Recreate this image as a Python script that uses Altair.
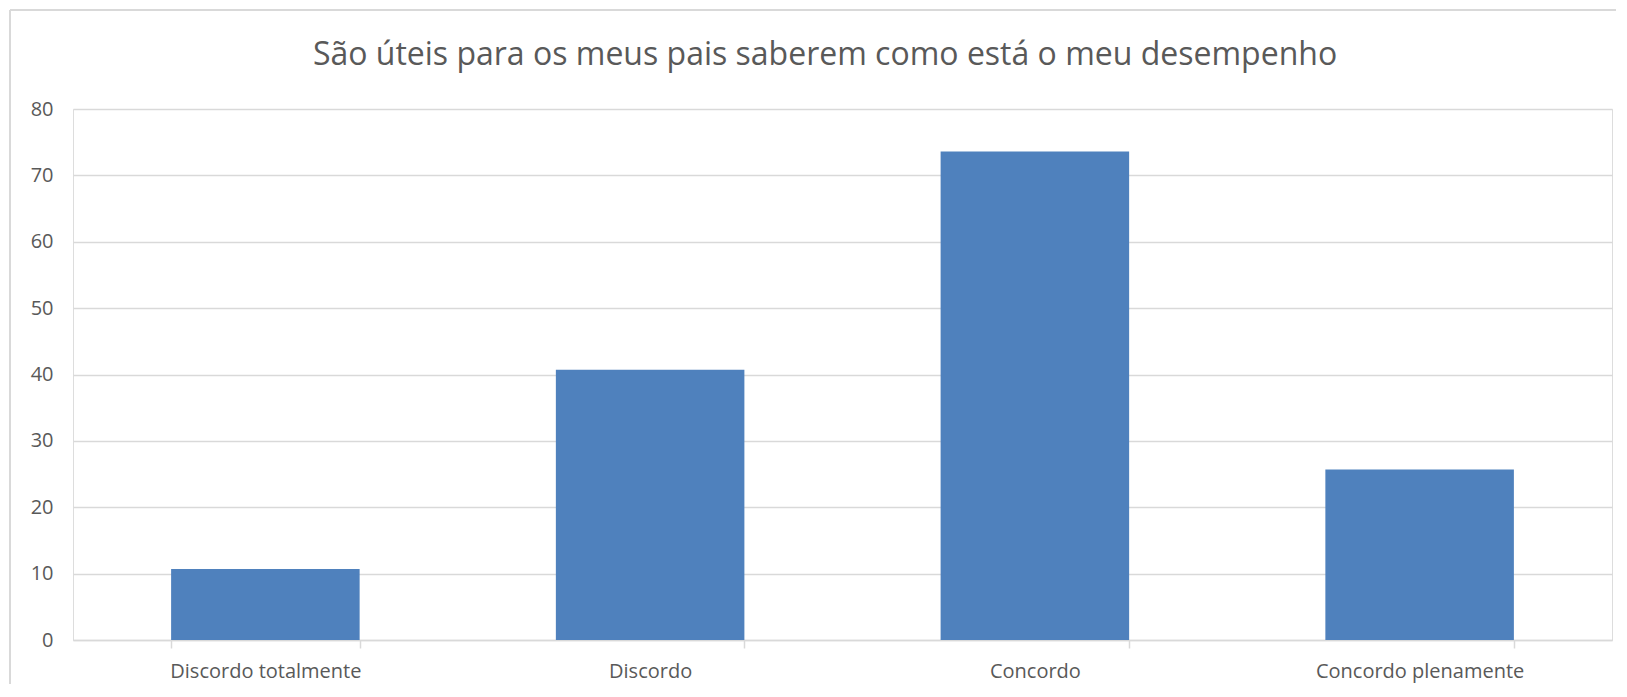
import altair as alt
import pandas as pd

categories = ["Discordo totalmente", "Discordo", "Concordo", "Concordo plenamente"]
values = [10.7, 40.7, 73.6, 25.7]
y_ticks = [0, 10, 20, 30, 40, 50, 60, 70, 80]
title_text = "São úteis para os meus pais saberem como está o meu desempenho"

df = pd.DataFrame({"categoria": categories, "valor": values})

FONT = "Open Sans"
GREY = "#595959"
LINE = "#d9d9d9"

bars = alt.Chart(df).mark_bar(color="#4f81bd").encode(
    x=alt.X(
        "categoria:N",
        sort=categories,
        title=None,
        scale=alt.Scale(paddingInner=0.51, paddingOuter=0.255),
        axis=alt.Axis(
            labelAngle=0,
            labelFont=FONT,
            labelFontSize=20,
            labelColor=GREY,
            labelPadding=13,
            labelLimit=0,
            domainColor=LINE,
            domainWidth=1.5,
            tickColor=LINE,
            tickWidth=1.5,
            tickSize=8,
            tickBand="extent",
            grid=False,
        ),
    ),
    y=alt.Y(
        "valor:Q",
        title=None,
        scale=alt.Scale(domain=[0, 80], nice=False),
        axis=alt.Axis(
            values=y_ticks,
            labelFont=FONT,
            labelFontSize=20,
            labelColor=GREY,
            labelPadding=20,
            domain=False,
            ticks=False,
            grid=True,
            gridColor=LINE,
            gridWidth=1.5,
        ),
    ),
)

# chart-area frame: only its top and left edges fall inside the picture
frame_top = alt.Chart(df).mark_rule(color=LINE, strokeWidth=1.5, clip=False).encode(
    x=alt.value(-63), x2=alt.value(1600), y=alt.value(-99)
)
frame_left = alt.Chart(df).mark_rule(color=LINE, strokeWidth=1.5, clip=False).encode(
    x=alt.value(-63), y=alt.value(-99), y2=alt.value(600)
)

title = alt.Chart(pd.DataFrame({"t": [title_text]})).mark_text(
    font=FONT,
    fontSize=32,
    color=GREY,
    align="center",
    baseline="alphabetic",
    clip=False,
).encode(
    text="t:N",
    x=alt.value(752),
    y=alt.value(-44),
)

chart = alt.layer(frame_top, frame_left, bars, title).properties(
    width=1539,
    height=531,
    padding={"left": 65, "top": 101, "right": 4, "bottom": 44},
    autosize=alt.AutoSizeParams(type="none"),
).configure_view(stroke=None).configure(background="white")

chart.save("out.html", embed_options={"renderer": "svg", "actions": False})
